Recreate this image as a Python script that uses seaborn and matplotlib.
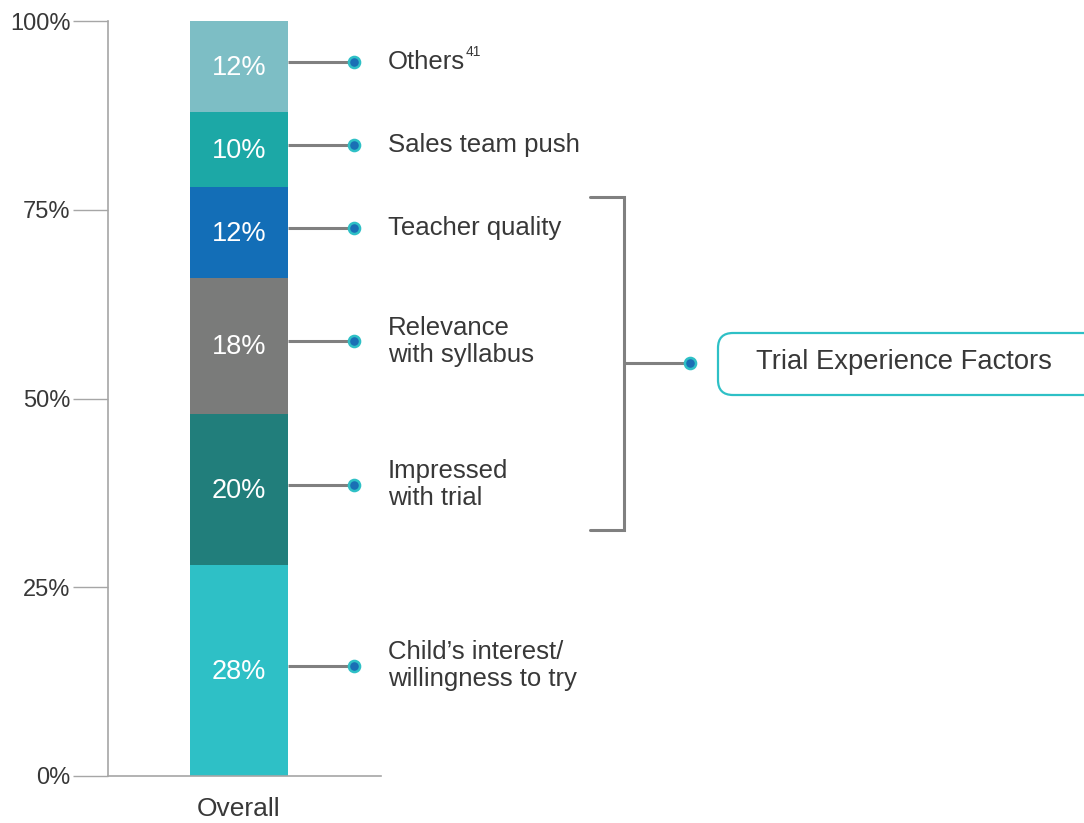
import numpy as np
import pandas as pd
import matplotlib
matplotlib.use("Agg")
import matplotlib.pyplot as plt
import matplotlib.transforms as mtransforms
from matplotlib.patches import FancyBboxPatch
import seaborn as sns

# ── Data (bottom to top) ─────────────────────────────────────────────
CATEGORY = "Overall"
FACTORS = [
    "Child\u2019s interest/\nwillingness to try",
    "Impressed\nwith trial",
    "Relevance\nwith syllabus",
    "Teacher quality",
    "Sales team push",
    "Others",
]
SHARES = [28, 20, 18, 12, 10, 12]
COLORS = ["#2EC0C6", "#217E7B", "#7A7B7A", "#136EB7", "#1CA8A6", "#7DBEC5"]
Y_TICKS = [0, 25, 50, 75, 100]
Y_TICK_LABELS = ["0%", "25%", "50%", "75%", "100%"]
GROUP_LABEL = "Trial Experience Factors"
GROUP_MEMBERS = [1, 2, 3]  # indices into FACTORS
OTHERS_NOTE = "41"

TEXT = "#383838"
LINE = "#808080"
SPINE = "#a6a6a6"
DOT_FACE = "#1a6fb5"
DOT_EDGE = "#2EC0C6"

sns.set_theme(style="white")
plt.rcParams["font.family"] = ["Liberation Sans", "DejaVu Sans"]

W, H = 1084, 823
fig = plt.figure(figsize=(W / 100, H / 100), dpi=100)
ax = fig.add_axes([108 / W, 1 - 776 / H, 273 / W, 755 / H])

# stacked bar: draw cumulative totals from the top down so each overlaps
cum = np.cumsum(SHARES)
for i in range(len(SHARES) - 1, -1, -1):
    df = pd.DataFrame({"group": [CATEGORY], "value": [cum[i]]})
    sns.barplot(data=df, x="group", y="value", color=COLORS[i],
                saturation=1, width=1.0, ax=ax, linewidth=0, zorder=2)

ax.set_xlim(-131 / 98, 142 / 98)
ax.set_ylim(0, 100)
ax.set_yticks(Y_TICKS)
ax.set_yticklabels(Y_TICK_LABELS)
ax.set_xlabel("")
ax.set_ylabel("")
ax.tick_params(axis="y", length=25, width=1, color=SPINE, pad=2,
               labelsize=17, labelcolor=TEXT, left=True)
ax.tick_params(axis="x", length=0, pad=15, labelsize=19, labelcolor=TEXT)
for side in ["top", "right"]:
    ax.spines[side].set_visible(False)
for side in ["left", "bottom"]:
    ax.spines[side].set_color(SPINE)
    ax.spines[side].set_linewidth(1.2)

# segment value labels
mids = cum - np.array(SHARES) / 2
for val, mid in zip(SHARES, mids):
    ax.text(0, mid - 0.2, f"{val}%", ha="center", va="center",
            color="white", fontsize=19.5, zorder=3)

# connector lines, dots and factor labels (x in figure fraction, y in data)
tr = mtransforms.blended_transform_factory(fig.transFigure, ax.transData)
x_bar_edge = 288 / W
x_dot = 354 / W
x_label = 388 / W
for i, (name, mid) in enumerate(zip(FACTORS, mids)):
    y = mid + 0.6
    ax.plot([x_bar_edge, x_dot], [y, y], color=LINE, lw=2.2,
            transform=tr, clip_on=False, zorder=3, solid_capstyle="butt")
    ax.plot([x_dot], [y], marker="o", ms=8, mfc=DOT_FACE, mec=DOT_EDGE,
            mew=1.8, transform=tr, clip_on=False, zorder=4)
    t = ax.text(x_label, y, name, ha="left", va="center", fontsize=18.5,
                color=TEXT, linespacing=1.15, transform=tr, clip_on=False)
    if name == "Others":
        ax.annotate(OTHERS_NOTE, xy=(1.0, 0.62), xycoords=t, fontsize=10,
                    color=TEXT, ha="left", va="bottom")

# bracket around the trial experience factors
g_top = cum[GROUP_MEMBERS[-1]] - 1.3
g_bot = cum[GROUP_MEMBERS[0] - 1] + 4.6
g_mid = (g_top + g_bot) / 2
xb0, xb1, xb2 = 590 / W, 624 / W, 690 / W
ax.plot([xb0, xb1, xb1, xb0], [g_top, g_top, g_bot, g_bot], color=LINE,
        lw=2.2, transform=tr, clip_on=False, solid_joinstyle="miter")
ax.plot([xb1, xb2], [g_mid, g_mid], color=LINE, lw=2.2, transform=tr,
        clip_on=False, solid_capstyle="butt")
ax.plot([xb2], [g_mid], marker="o", ms=8, mfc=DOT_FACE, mec=DOT_EDGE,
        mew=1.8, transform=tr, clip_on=False, zorder=4)

# rounded box with group label (in inches from figure corner)
box = FancyBboxPatch((7.18, 4.28), 3.8, 0.62,
                     boxstyle="round,pad=0,rounding_size=0.15",
                     transform=fig.dpi_scale_trans, facecolor="white",
                     edgecolor=DOT_EDGE, linewidth=1.6, clip_on=False)
fig.add_artist(box)
fig.text(904 / W, 1 - 362 / H, GROUP_LABEL, ha="center", va="center",
         fontsize=19.7, color=TEXT)

fig.savefig("out.png", dpi=100)
plt.close(fig)
